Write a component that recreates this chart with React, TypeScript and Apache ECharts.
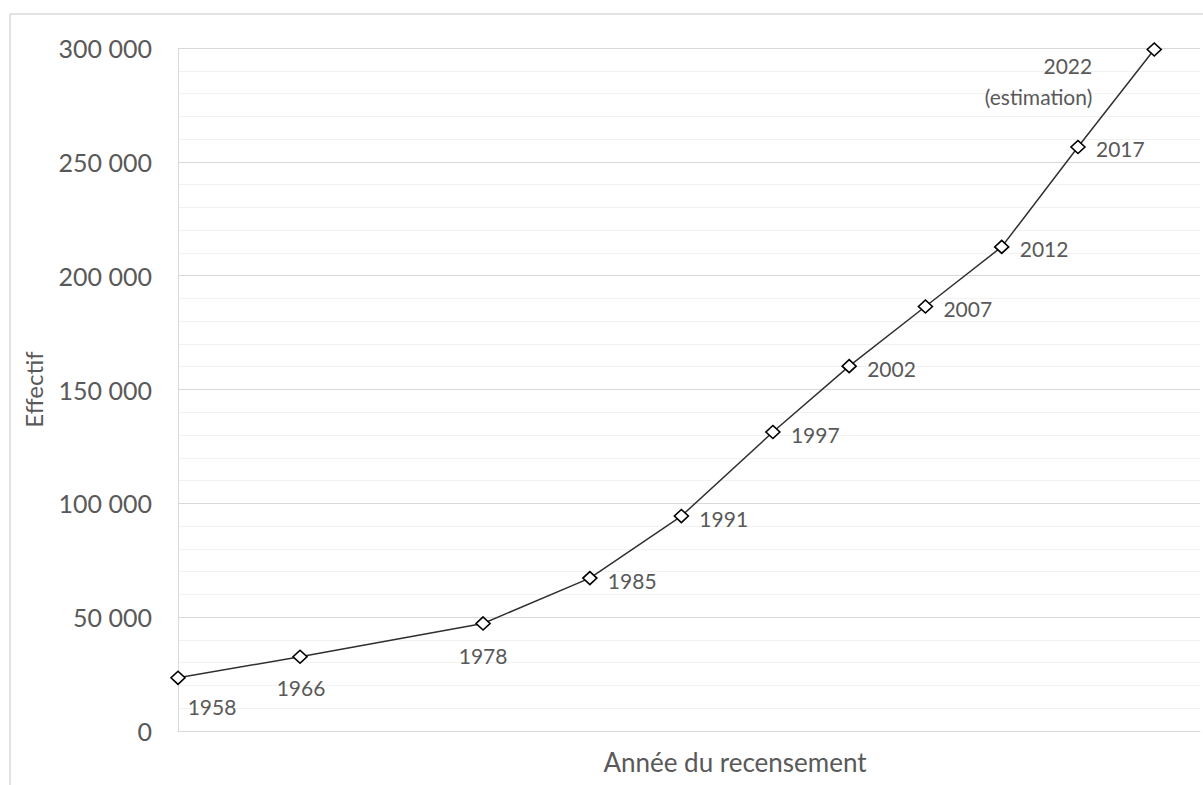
import React, { useEffect, useRef } from "react";
import * as echarts from "echarts";

const years = [1958, 1966, 1978, 1985, 1991, 1997, 2002, 2007, 2012, 2017, 2022];
const population = [23364, 32607, 47246, 67167, 94410, 131320, 160265, 186452, 212645, 256518, 299348];
const pointLabels = ["1958", "1966", "1978", "1985", "1991", "1997", "2002", "2007", "2012", "2017", "2022\n(estimation)"];
const yTicks = [0, 50000, 100000, 150000, 200000, 250000, 300000];
const yAxisTitle = "Effectif";
const xAxisTitle = "Année du recensement";

type Place = { align: "left" | "center" | "right"; offset: [number, number] };
const below = (dx: number, dy: number): Place => ({ align: "center", offset: [dx, dy] });
const right: Place = { align: "left", offset: [18, 2] };
const placements: Place[] = [
  below(34, 29),
  below(1, 31),
  below(0, 32),
  right,
  right,
  right,
  right,
  right,
  right,
  right,
  { align: "right", offset: [-62, 32] },
];

const fmt = (v: number) => String(v).replace(/\B(?=(\d{3})+(?!\d))/g, " ");

export default function App() {
  const ref = useRef<HTMLDivElement>(null);
  useEffect(() => {
    if (!ref.current) return;
    const chart = echarts.init(ref.current, undefined, { renderer: "svg" });
    const font = "Lato, 'Open Sans', sans-serif";
    chart.setOption({
      animation: false,
      backgroundColor: "#ffffff",
      textStyle: { fontFamily: font },
      graphic: [
        {
          type: "rect",
          shape: { x: 10, y: 14, width: 1400, height: 1000 },
          style: { fill: "none", stroke: "#d9d9d9", lineWidth: 1.5 },
          silent: true,
          z: -10,
        },
        {
          type: "text",
          x: 735,
          y: 762,
          style: {
            text: xAxisTitle,
            fill: "#595959",
            font: `26px ${font}`,
            textAlign: "center",
            textVerticalAlign: "middle",
          },
          silent: true,
        },
      ],
      grid: { left: 178, right: 3, top: 48, bottom: 54 },
      xAxis: {
        type: "value",
        min: 1958,
        max: 2025,
        axisLine: { show: true, lineStyle: { color: "#d9d9d9", width: 1 } },
        axisTick: { show: false },
        axisLabel: { show: false },
        splitLine: { show: false },
      },
      yAxis: {
        type: "value",
        min: yTicks[0],
        max: yTicks[yTicks.length - 1],
        interval: yTicks[1] - yTicks[0],
        name: yAxisTitle,
        nameLocation: "middle",
        nameGap: 133,
        nameRotate: 90,
        nameTextStyle: { color: "#595959", fontSize: 24, fontFamily: font },
        axisLine: { show: true, lineStyle: { color: "#d9d9d9", width: 1 } },
        axisTick: { show: false },
        axisLabel: {
          color: "#595959",
          fontSize: 25,
          fontFamily: font,
          margin: 26,
          formatter: (v: number) => fmt(v),
        },
        splitLine: { show: true, lineStyle: { color: "#d9d9d9", width: 1 } },
        minorTick: { show: false, splitNumber: 5 },
        minorSplitLine: { show: true, lineStyle: { color: "#f2f2f2", width: 1 } },
      },
      series: [
        {
          type: "line",
          data: years.map((y, i) => ({
            value: [y, population[i]],
            label: {
              show: true,
              position: "inside",
              formatter: pointLabels[i],
              align: placements[i].align,
              verticalAlign: "middle",
              offset: placements[i].offset,
              color: "#595959",
              fontSize: 21,
              fontFamily: font,
              lineHeight: 31,
            },
          })),
          symbol: "diamond",
          symbolSize: [14, 13],
          showAllSymbol: true,
          lineStyle: { color: "#303030", width: 1.5 },
          itemStyle: { color: "#ffffff", borderColor: "#000000", borderWidth: 1.6 },
          emphasis: { disabled: true },
          z: 5,
        },
      ],
    });
    return () => chart.dispose();
  }, []);
  return (
    <div
      ref={ref}
      style={{ position: "fixed", left: 0, top: 0, width: 1203, height: 785 }}
    />
  );
}
